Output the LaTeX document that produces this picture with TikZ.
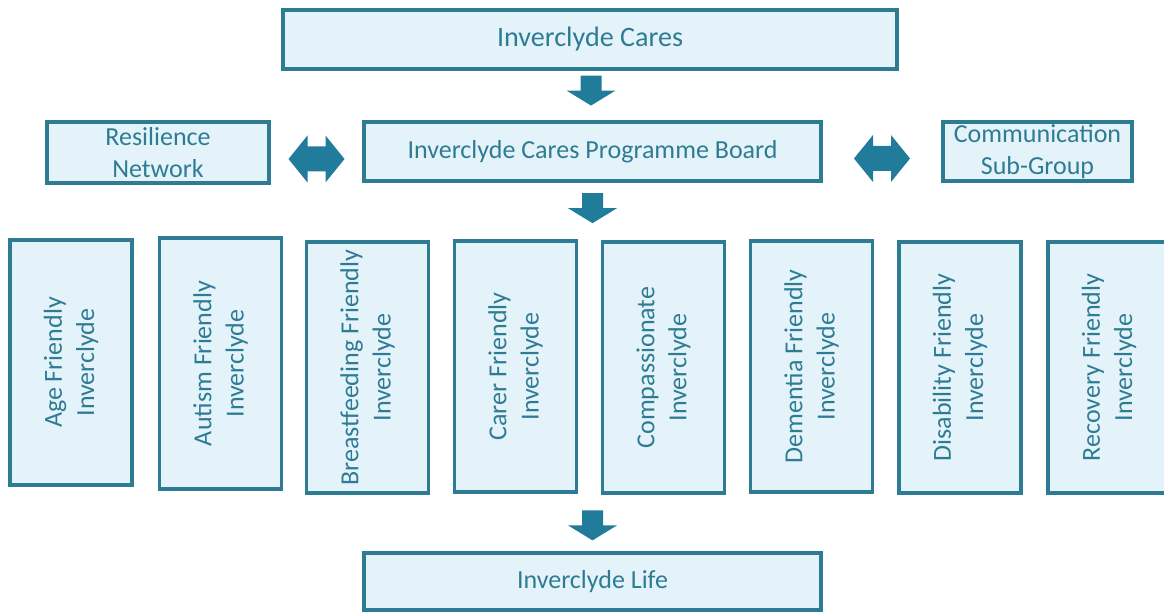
\documentclass[tikz,border=0pt]{standalone}
\usepackage{fontspec}
\setmainfont{Carlito}
\usepackage{tikz}
\usetikzlibrary{calc}
\definecolor{tealline}{RGB}{46,124,148}
\definecolor{tealfill}{RGB}{228,243,249}
\definecolor{tealarrow}{RGB}{33,124,155}
\tikzset{
    box/.style={draw=tealline, line width=2pt, fill=tealfill, text=tealline,
        align=center, inner sep=0pt, font=\fontsize{14.8pt}{18.3pt}\selectfont},
    downarrow/.pic={
        \fill[tealarrow] (-0.21,0.3) -- (0.21,0.3) -- (0.21,0) -- (0.49,0) -- (0,-0.3)
            -- (-0.49,0) -- (-0.21,0) -- cycle;
    },
    bothways/.pic={
        \fill[tealarrow] (-0.56,0) -- (-0.18,0.47) -- (-0.18,0.25) -- (0.18,0.25) -- (0.18,0.47)
            -- (0.56,0) -- (0.18,-0.47) -- (0.18,-0.25) -- (-0.18,-0.25) -- (-0.18,-0.47) -- cycle;
    },
}

\begin{document}
\begin{tikzpicture}
\useasboundingbox (0,0) rectangle (23.28,-12.24);

\node[box, minimum width=12.28cm, minimum height=1.18cm, font=\fontsize{16pt}{19pt}\selectfont] (cares) at (11.8,-0.79) {Inverclyde Cares};
\node[box, minimum width=9.14cm, minimum height=1.18cm] (board) at (11.85,-3.03) {Inverclyde Cares Programme Board};
\node[box, minimum width=4.44cm, minimum height=1.22cm] (resil) at (3.16,-3.05) {Resilience\\Network};
\node[box, minimum width=3.78cm, minimum height=1.18cm] (comm) at (20.75,-3.03) {Communication\\Sub-Group};

% the eight groups, turned on their side
\foreach \i/\x/\y/\h/\txt in {
    1/1.42/-7.25/4.90/Age Friendly\\Inverclyde,
    2/4.41/-7.27/5.02/Autism Friendly\\Inverclyde,
    3/7.35/-7.35/5.02/Breastfeeding Friendly\\Inverclyde,
    4/10.31/-7.33/5.02/Carer Friendly\\Inverclyde,
    5/13.27/-7.35/5.02/Compassionate\\Inverclyde,
    6/16.23/-7.33/5.02/Dementia Friendly\\Inverclyde,
    7/19.20/-7.35/5.02/Disability Friendly\\Inverclyde,
    8/22.18/-7.35/5.02/Recovery Friendly\\Inverclyde}
{
    \node[box, rotate=90, minimum width=\h cm, minimum height=2.44cm] (group\i) at (\x,\y) {\txt};
}

\node[box, minimum width=9.14cm, minimum height=1.14cm] (life) at (11.85,-11.63) {Inverclyde Life};

\pic at ($(cares.south)!0.4!(board.north)$) {downarrow};
\pic at ($(board.south)!0.45!(board.south |- group4.east)$) {downarrow};
\pic at ($(life.north |- group4.west)!0.55!(life.north)$) {downarrow};
\pic[yshift=-0.14cm] at ($(resil.east)!0.5!(board.west)$) {bothways};
\pic[yshift=-0.14cm] at ($(board.east)!0.5!(comm.west)$) {bothways};
\end{tikzpicture}
\end{document}
